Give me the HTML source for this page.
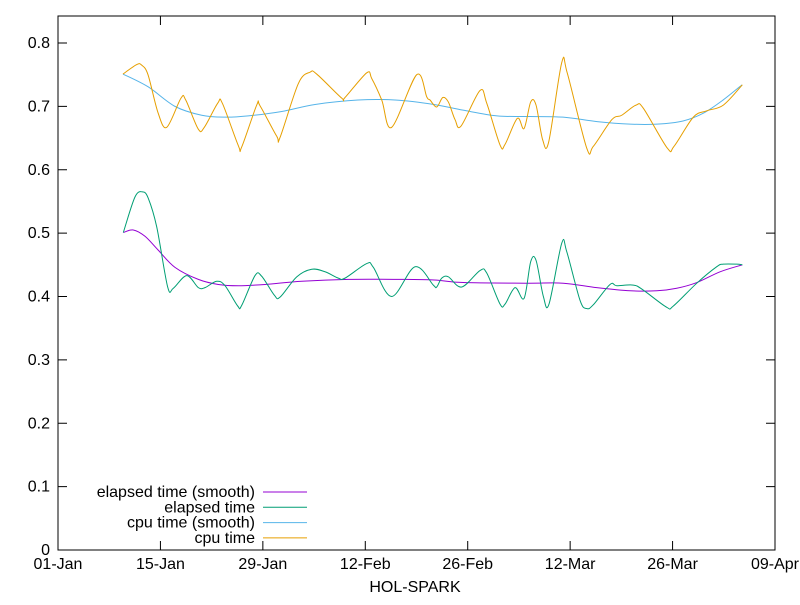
<!DOCTYPE html>
<html><head><meta charset="utf-8"><style>
body{margin:0;background:#fff}
svg{font-family:"Liberation Sans",sans-serif;font-size:16px}
</style></head><body>
<svg width="800" height="600" viewBox="0 0 800 600" id="c">
<rect width="800" height="600" fill="#fff"/>
<g id="axes"></g>
<g id="series"></g>
<g id="legend"></g>
<text x="415" y="592" text-anchor="middle">HOL-SPARK</text>
</svg>
<script>
const xTickLabels=["01-Jan","15-Jan","29-Jan","12-Feb","26-Feb","12-Mar","26-Mar","09-Apr"];
const xTickDays=[0,14,28,42,56,70,84,98];
const yTicks=[0,0.1,0.2,0.3,0.4,0.5,0.6,0.7,0.8];
const yTickLabels=["0","0.1","0.2","0.3","0.4","0.5","0.6","0.7","0.8"];
const cpuDays=[8.88,10.76,11.44,12.30,13.67,14.86,16.81,17.46,19.18,20.00,21.83,22.46,24.65,25.11,27.16,27.61,29.89,30.35,32.85,34.45,35.36,38.78,39.23,42.20,42.88,44.25,45.61,49.03,50.40,50.85,51.76,52.59,53.35,54.27,55.09,57.68,58.60,60.42,61.10,62.78,63.70,64.61,65.34,66.25,67.07,68.85,69.62,72.27,73.17,75.69,77.05,79.01,80.01,83.29,84.20,86.84,88.67,90.94,93.54];
const cpuVals=[0.751,0.766,0.765,0.750,0.690,0.667,0.713,0.710,0.664,0.667,0.705,0.705,0.638,0.636,0.702,0.701,0.653,0.651,0.736,0.754,0.751,0.713,0.714,0.753,0.744,0.710,0.667,0.750,0.715,0.710,0.699,0.714,0.707,0.679,0.669,0.725,0.705,0.639,0.640,0.681,0.665,0.707,0.702,0.647,0.644,0.769,0.752,0.634,0.637,0.679,0.686,0.702,0.697,0.634,0.637,0.683,0.693,0.702,0.734];
const cpuSmDays=[8.88,12.30,15.99,19.64,22.83,26.01,30.58,35.13,41.01,46.06,51.40,55.36,60.01,64.52,69.03,73.68,78.19,81.88,85.43,88.17,90.90,93.49];
const cpuSmVals=[0.751,0.731,0.700,0.686,0.683,0.685,0.692,0.703,0.710,0.710,0.703,0.694,0.685,0.684,0.683,0.676,0.672,0.672,0.677,0.689,0.710,0.734];
const elDays=[8.93,10.52,11.58,12.34,13.49,14.99,15.76,17.59,19.18,20.09,21.69,22.83,24.56,25.11,26.93,27.84,29.57,30.35,32.63,34.68,36.50,38.31,39.23,42.20,43.10,45.61,48.80,51.30,51.76,52.45,53.35,55.18,57.68,58.60,60.42,61.10,62.47,63.70,64.61,65.34,66.34,67.11,68.85,69.53,71.35,72.27,73.17,75.45,76.37,78.64,80.01,83.20,84.11,87.31,90.04,90.94,92.77,93.54];
const elVals=[0.501,0.557,0.565,0.555,0.510,0.415,0.413,0.433,0.414,0.414,0.424,0.417,0.385,0.386,0.433,0.432,0.402,0.399,0.431,0.443,0.439,0.429,0.429,0.452,0.446,0.400,0.447,0.418,0.415,0.429,0.431,0.415,0.441,0.437,0.388,0.388,0.414,0.397,0.455,0.457,0.400,0.388,0.484,0.471,0.394,0.381,0.387,0.419,0.417,0.418,0.410,0.383,0.385,0.421,0.447,0.451,0.451,0.450];
const elSmDays=[8.93,10.29,11.89,13.71,15.99,19.18,21.91,24.65,28.29,33.31,39.68,46.51,51.44,55.40,64.07,69.07,73.63,78.19,81.84,84.57,87.31,90.49,93.54];
const elSmVals=[0.501,0.505,0.495,0.473,0.446,0.427,0.419,0.417,0.419,0.424,0.427,0.427,0.426,0.422,0.421,0.421,0.414,0.409,0.409,0.413,0.422,0.439,0.450];

const NS="http://www.w3.org/2000/svg";
const L=58,R=775,T=16,B=550;
const X=d=>L+(d-0)/98*(R-L);
const Y=v=>B-v/0.8*(B-43);
function mk(tag,attrs,parent){const e=document.createElementNS(NS,tag);for(const k in attrs)e.setAttribute(k,attrs[k]);parent.appendChild(e);return e;}
const axes=document.getElementById('axes');
const border=mk('rect',{x:L,y:T,width:R-L,height:B-T,fill:'none',stroke:'#000','stroke-width':1},axes);


yTicks.forEach((v,i)=>{
  const y=Y(v);
  const t=mk('path',{d:`M${L},${y}h9M${R},${y}h-9`,stroke:'#000'},axes);
  
  
  const tx=mk('text',{x:L-8,y:y+5,'text-anchor':'end'},axes);tx.textContent=yTickLabels[i];
  
  
});
xTickDays.forEach((d,i)=>{
  const x=X(d);
  const t=mk('path',{d:`M${x},${B}v-9M${x},${T}v9`,stroke:'#000'},axes);
  
  
  const tx=mk('text',{x:x,y:B+19,'text-anchor':'middle'},axes);tx.textContent=xTickLabels[i];
  
  
});
function curve(xs,ys){
  const p=xs.map((d,i)=>[X(d),Y(ys[i])]);
  let s=`M${p[0][0]},${p[0][1]}`;
  for(let i=0;i<p.length-1;i++){
    const p0=p[Math.max(0,i-1)],p1=p[i],p2=p[i+1],p3=p[Math.min(p.length-1,i+2)];
    const c1=[p1[0]+(p2[0]-p0[0])/6,p1[1]+(p2[1]-p0[1])/6];
    const c2=[p2[0]-(p3[0]-p1[0])/6,p2[1]-(p3[1]-p1[1])/6];
    s+=`C${c1[0]},${c1[1]} ${c2[0]},${c2[1]} ${p2[0]},${p2[1]}`;
  }
  return s;
}
const ser=document.getElementById('series');
const defs=[
 ['elapsed-time-smooth-line',elSmDays,elSmVals,'#9400d3'],
 ['elapsed-time-line',elDays,elVals,'#009e73'],
 ['cpu-time-smooth-line',cpuSmDays,cpuSmVals,'#56b4e9'],
 ['cpu-time-line',cpuDays,cpuVals,'#e69f00']];
defs.forEach(s=>{
  const e=mk('path',{d:curve(s[1],s[2]),fill:'none',stroke:s[3],'stroke-width':1},ser);
  
  
});
const leg=document.getElementById('legend');
const labels=['elapsed time (smooth)','elapsed time','cpu time (smooth)','cpu time'];
labels.forEach((lab,i)=>{
  const y=492+i*15.3;
  const t=mk('text',{x:255,y:y+5,'text-anchor':'end'},leg);t.textContent=lab;
  
  
  const l=mk('path',{d:`M263,${y}H307`,stroke:defs[i][3]},leg);
  
  
});
</script>
</body></html>
